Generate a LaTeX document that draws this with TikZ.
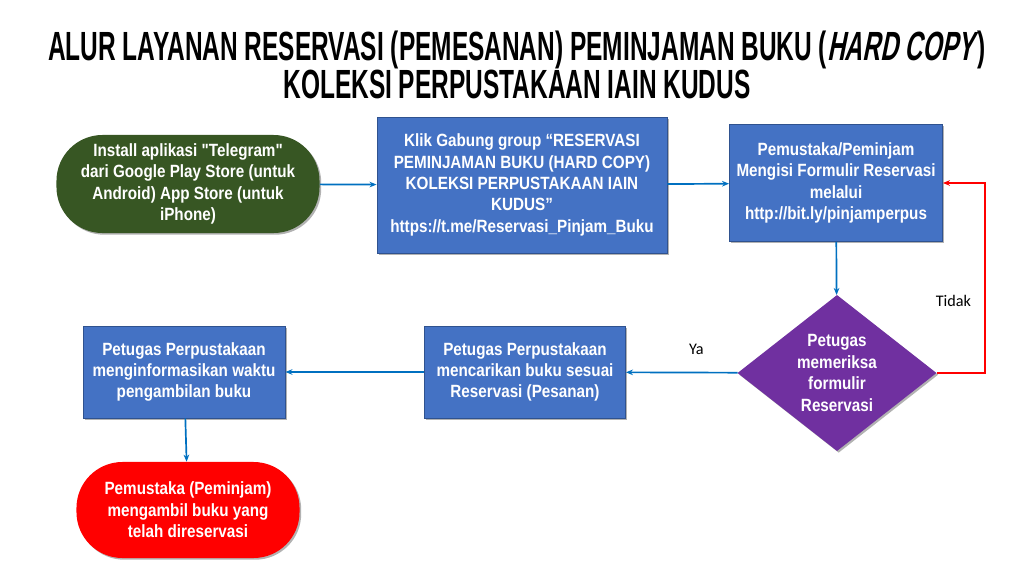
\documentclass[tikz,border=0pt]{standalone}
\usepackage{fontspec}
\setmainfont[FakeStretch=0.86, Ligatures=TeXOff]{Liberation Sans}
\newfontfamily\titlefont[FakeStretch=0.60]{Liberation Sans}
\newfontfamily\labelfont{Carlito}
\usepackage{tikz}
\usetikzlibrary{arrows.meta, shapes.geometric, shadows}

\definecolor{termgreen}{HTML}{375623}
\definecolor{stepblue}{HTML}{4472C4}
\definecolor{stepedge}{HTML}{2F528F}
\definecolor{checkpurple}{HTML}{7030A0}
\definecolor{flowblue}{HTML}{0070C0}

\begin{document}
\begin{tikzpicture}[x=0.025cm, y=-0.025cm,
    shade/.style={drop shadow={shadow xshift=1.2pt, shadow yshift=-1.2pt, opacity=0.3, fill=black}},
    txt/.style={text=white, font=\bfseries\fontsize{12.6}{15.2}\selectfont, align=center, inner sep=2pt},
    stepbox/.style={txt, shade, fill=stepblue, draw=stepedge, line width=0.6pt},
    pill/.style={txt, shade, rounded corners=1.15cm},
    check/.style={txt, shade, diamond, fill=checkpurple, inner sep=0pt},
    flow/.style={draw=flowblue, line width=1.2pt, -{Stealth[length=5pt, width=4pt]}},
    back/.style={draw=red, line width=1.2pt, -{Stealth[length=5pt, width=4pt]}},
    answer/.style={font=\labelfont\fontsize{11.5}{13}\selectfont}]
  \useasboundingbox (0,0) rectangle (1034,580);
  % title
  \node (title) at (517,65) [align=center, font=\titlefont\bfseries\fontsize{29}{24.5}\selectfont]
    {ALUR LAYANAN RESERVASI (PEMESANAN) PEMINJAMAN BUKU ({\addfontfeatures{FakeSlant=0.2}HARD COPY}\kern2.5pt)\\
     KOLEKSI PERPUSTAKAAN IAIN KUDUS};
  % top row
  \node (install) at (188,184) [pill, fill=termgreen, minimum width=6.575cm, minimum height=2.45cm]
    {Install aplikasi "Telegram"\\ dari Google Play Store (untuk\\ Android) App Store (untuk\\ iPhone)};
  \node (gabung) at (522,185) [stepbox, minimum width=7.25cm, minimum height=3.4cm]
    {Klik Gabung group “RESERVASI\\ PEMINJAMAN BUKU (HARD COPY)\\ KOLEKSI PERPUSTAKAAN IAIN\\ KUDUS”\\ https://t.me/Reservasi\_Pinjam\_Buku};
  \node (isi) at (836,183) [stepbox, minimum width=5.325cm, minimum height=2.925cm]
    {Pemustaka/Peminjam\\ Mengisi Formulir Reservasi\\ melalui\\ http://bit.ly/pinjamperpus};
  % middle row
  \node (periksa) at (837,373) [check, minimum width=4.975cm, minimum height=3.55cm]
    {Petugas\\ memeriksa\\ formulir\\ Reservasi};
  \node (cari) at (525,372) [stepbox, minimum width=5.025cm, minimum height=2.3cm]
    {Petugas Perpustakaan\\ mencarikan buku sesuai\\ Reservasi (Pesanan)};
  \node (info) at (184,372) [stepbox, minimum width=5.05cm, minimum height=2.3cm]
    {Petugas Perpustakaan\\ menginformasikan waktu\\ pengambilan buku};
  % bottom
  \node (ambil) at (188,510) [pill, fill=red, minimum width=5.575cm, minimum height=2.4cm]
    {Pemustaka (Peminjam)\\ mengambil buku yang\\ telah direservasi};
  % horizontal lines
  \draw[flow] (install) -- (gabung);
  \draw[flow] (gabung) -- (isi);
  \draw[flow] (periksa) -- node[answer, above=9pt, pos=0.37] {Ya} (cari);
  \draw[flow] (cari) -- (info);
  % vertical lines
  \draw[flow] (isi) -- (periksa);
  \draw[flow] (info) -- (ambil);
  % loop back when the form is rejected
  \coordinate (loop) at (985,373);
  \draw[back] (periksa.east) -- (loop) -- node[answer, left=6pt, pos=0.38] {Tidak} (loop |- isi.east) -- (isi.east);
\end{tikzpicture}
\end{document}
